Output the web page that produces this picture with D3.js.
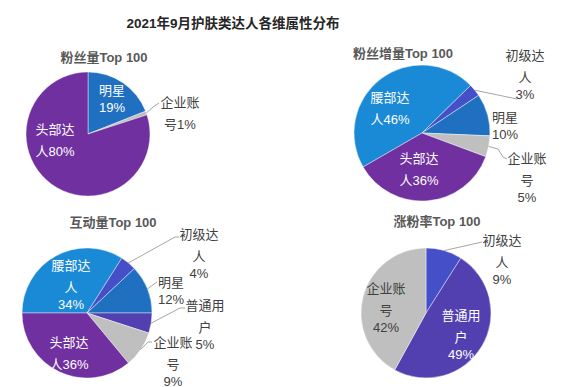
<!DOCTYPE html>
<html>
<head>
<meta charset="utf-8">
<script src="https://cdn.jsdelivr.net/npm/d3@7"></script>
<style>
  body { margin: 0; background: #fff; }
  text { font-family: "Liberation Sans", Arial, "Noto Sans CJK SC", sans-serif; }
</style>
</head>
<body>
<div id="chart"></div>
<script>
// data
const fansCats = ['明星', '企业账号', '头部达人'];
const fansVals = [19, 1, 80];

const growCats = ['腰部达人', '初级达人', '明星', '企业账号', '头部达人'];
const growVals = [46, 3, 10, 5, 36];

const interCats = ['腰部达人', '初级达人', '明星', '普通用户', '企业账号', '头部达人'];
const interVals = [34, 4, 12, 5, 9, 36];

const rateCats = ['初级达人', '普通用户', '企业账号'];
const rateVals = [9, 49, 42];

const titles = ['粉丝量Top 100', '粉丝增量Top 100', '互动量Top 100', '涨粉率Top 100'];

const colors = {
    '明星': '#1f70c1',
    '腰部达人': '#1a8ad6',
    '初级达人': '#4550c8',
    '普通用户': '#5340b0',
    '头部达人': '#7030a0',
    '企业账号': '#bfbfbf'
};

const width = 576, height = 387;
const svg = d3.select('#chart').append('svg')
    .attr('width', width)
    .attr('height', height);

svg.append('text')
    .attr('x', 233).attr('y', 23)
    .attr('text-anchor', 'middle')
    .attr('dominant-baseline', 'central')
    .attr('font-size', 13.5).attr('font-weight', 'bold')
    .attr('fill', '#262626')
    .text('2021年9月护肤类达人各维属性分布');

// layout per chart: label anchors (x,y of first line), break positions, leader points
const charts = [
    {
        cats: fansCats, vals: fansVals, title: titles[0],
        cx: 88, cy: 134, r: 62, start: 0, tx: 104, ty: 57,
        labels: [
            { x: 112, y: 90, breaks: [2], white: true },
            { x: 180, y: 102, breaks: [3], leader: [[153, 107], [159, 103]] },
            { x: 55, y: 129, breaks: [3], white: true }
        ]
    },
    {
        cats: growCats, vals: growVals, title: titles[1],
        cx: 422, cy: 133, r: 68, start: 240, tx: 403, ty: 53,
        labels: [
            { x: 390, y: 97, breaks: [3], white: true },
            { x: 525, y: 55, breaks: [3, 4], leader: [[517, 99]] },
            { x: 505, y: 117, breaks: [2] },
            { x: 527, y: 158, breaks: [3, 4], leader: [[498, 149], [503, 157], [507, 159]] },
            { x: 419, y: 158, breaks: [3], white: true }
        ]
    },
    {
        cats: interCats, vals: interVals, title: titles[2],
        cx: 87, cy: 313, r: 65, start: 270, tx: 113, ty: 222,
        labels: [
            { x: 71, y: 265, breaks: [3, 4], white: true },
            { x: 199, y: 234, breaks: [3, 4], leader: [[175, 237], [179, 237]] },
            { x: 171, y: 282, breaks: [2], leader: [[154, 284], [157, 282]] },
            { x: 205, y: 305, breaks: [3, 4], leader: [[180, 308], [185, 308]] },
            { x: 173, y: 342, breaks: [3, 4], leader: [[148, 342], [152, 342]] },
            { x: 69, y: 342, breaks: [3], white: true }
        ]
    },
    {
        cats: rateCats, vals: rateVals, title: titles[3],
        cx: 426, cy: 313, r: 65, start: 0, tx: 437, ty: 221,
        labels: [
            { x: 502, y: 240, breaks: [3, 4], leader: [[482, 242]] },
            { x: 461, y: 315, breaks: [3, 4], white: true },
            { x: 386, y: 288, breaks: [3, 4] }
        ]
    }
];

const toRad = d => d * Math.PI / 180;

charts.forEach(c => {
    const g = svg.append('g').attr('transform', `translate(${c.cx},${c.cy})`);
    const data = c.cats.map((k, i) => ({ name: k, value: c.vals[i] }));

    const pie = d3.pie()
        .sort(null)
        .value(d => d.value)
        .startAngle(toRad(c.start))
        .endAngle(toRad(c.start) + 2 * Math.PI);
    const arcs = pie(data);
    const arc = d3.arc().innerRadius(0).outerRadius(c.r);

    g.selectAll('path.slice')
        .data(arcs)
        .join('path')
        .attr('class', 'slice')
        .attr('d', arc)
        .attr('fill', d => colors[d.data.name])
        .attr('stroke', '#ffffff')
        .attr('stroke-opacity', 0.6)
        .attr('stroke-width', 0.7);

    svg.append('text')
        .attr('x', c.tx).attr('y', c.ty)
        .attr('text-anchor', 'middle')
        .attr('dominant-baseline', 'central')
        .attr('font-size', 13).attr('font-weight', 'bold')
        .attr('fill', '#595959')
        .text(c.title);

    arcs.forEach((a, i) => {
        const lab = c.labels[i];
        const full = a.data.name + a.data.value + '%';
        const cuts = [0, ...lab.breaks, full.length];
        const lines = [];
        for (let j = 0; j < cuts.length - 1; j++) {
            const s = full.slice(cuts[j], cuts[j + 1]);
            if (s) lines.push(s);
        }

        if (lab.leader) {
            const mid = (a.startAngle + a.endAngle) / 2;
            const p0 = [c.cx + Math.sin(mid) * c.r, c.cy - Math.cos(mid) * c.r];
            svg.append('path')
                .attr('d', d3.line()([p0, ...lab.leader]))
                .attr('fill', 'none')
                .attr('stroke', '#a6a6a6')
                .attr('stroke-width', 1);
        }

        const t = svg.append('text')
            .attr('text-anchor', 'middle')
            .attr('dominant-baseline', 'central')
            .attr('font-size', 13)
            .attr('fill', lab.white ? '#ffffff' : '#404040');
        let y = lab.y;
        lines.forEach((ln, j) => {
            if (j > 0) y += /^[0-9%]+$/.test(ln) ? 17 : 22;
            t.append('tspan').attr('x', lab.x).attr('y', y).text(ln);
        });
    });
});
</script>
</body>
</html>
